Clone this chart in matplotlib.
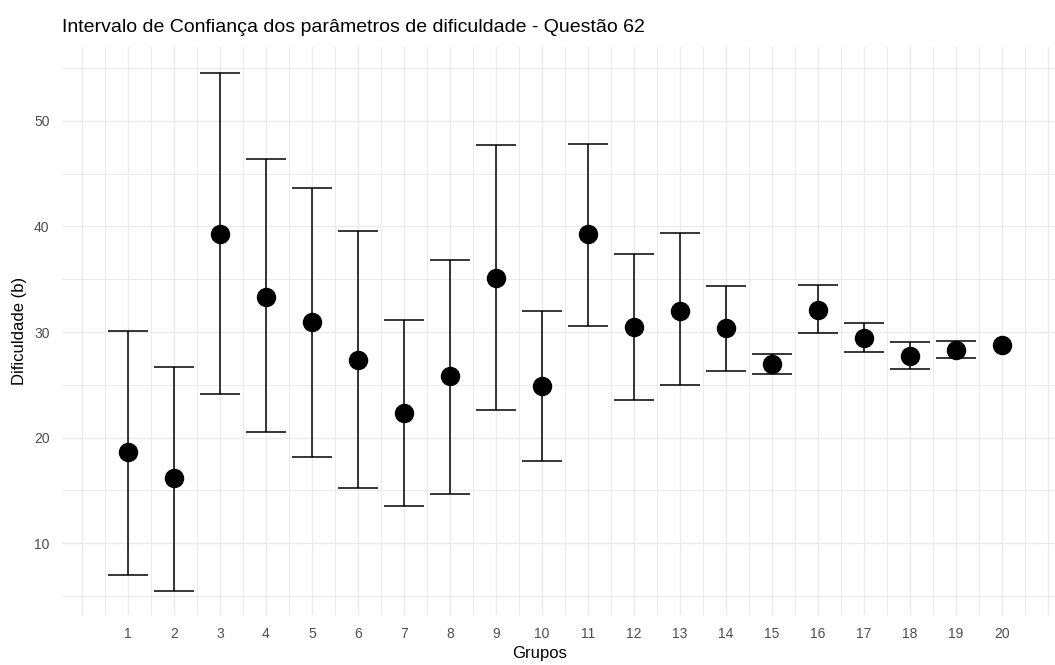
import numpy as np
import matplotlib
matplotlib.use('Agg')
import matplotlib.pyplot as plt

# dados
grupos = list(range(1, 21))
b_est = [18.6, 16.2, 39.3, 33.3, 31.0, 27.4, 22.3, 25.8, 35.1, 24.9,
         39.3, 30.5, 32.0, 30.4, 27.0, 32.1, 29.4, 27.7, 28.3, 28.8]
b_inf = [7.0, 5.5, 24.1, 20.5, 18.2, 15.2, 13.5, 14.7, 22.6, 17.8,
         30.6, 23.6, 25.0, 26.3, 26.0, 29.9, 28.1, 26.5, 27.5, 28.8]
b_sup = [30.1, 26.7, 54.5, 46.4, 43.6, 39.6, 31.1, 36.8, 47.7, 32.0,
         47.8, 37.4, 39.4, 34.4, 27.9, 34.5, 30.9, 29.1, 29.2, 28.8]

plt.rcParams['font.family'] = ['Liberation Sans', 'DejaVu Sans']

fig = plt.figure(figsize=(10.55, 6.65), dpi=100)
ax = fig.add_axes([0.0588, 0.0752, 0.9412, 0.8541])

x = np.array(grupos)
est = np.array(b_est)
inf = np.array(b_inf)
sup = np.array(b_sup)
tem_ic = sup > inf  # grupo 20 nao tem intervalo visivel

# grade estilo theme_minimal
for v in np.arange(0, 21.01, 0.5):
    lw = 1.0 if float(v).is_integer() else 0.7
    ax.axvline(v, color='#EBEBEB', lw=lw, zorder=0)
for v in np.arange(5, 56, 5):
    lw = 1.0 if v % 10 == 0 else 0.7
    ax.axhline(v, color='#EBEBEB', lw=lw, zorder=0)

ax.errorbar(x[tem_ic], est[tem_ic],
            yerr=[est[tem_ic] - inf[tem_ic], sup[tem_ic] - est[tem_ic]],
            fmt='none', ecolor='black', elinewidth=1.1,
            capsize=14.5, capthick=1.1, zorder=2)
ax.plot(x, est, 'o', color='black', markersize=13, zorder=3)

ax.set_xlim(-0.43, 21.15)
ax.set_ylim(3.2, 57.0)
ax.set_xticks(grupos)
ax.set_xticklabels([str(g) for g in grupos])
ax.set_yticks([10, 20, 30, 40, 50])
ax.tick_params(length=0, labelsize=10, labelcolor='#4D4D4D', pad=9)

for s in ax.spines.values():
    s.set_visible(False)

ax.set_xlabel('Grupos', fontsize=12)
ax.xaxis.set_label_coords(0.481, -0.055)
ax.set_ylabel('Dificuldade (b)', fontsize=12)
ax.yaxis.set_label_coords(-0.035, 0.5)
fig.text(0.0588, 0.958, 'Intervalo de Confiança dos parâmetros de dificuldade - Questão 62',
         fontsize=14, ha='left', va='center')

plt.savefig('out.png', dpi=100)
